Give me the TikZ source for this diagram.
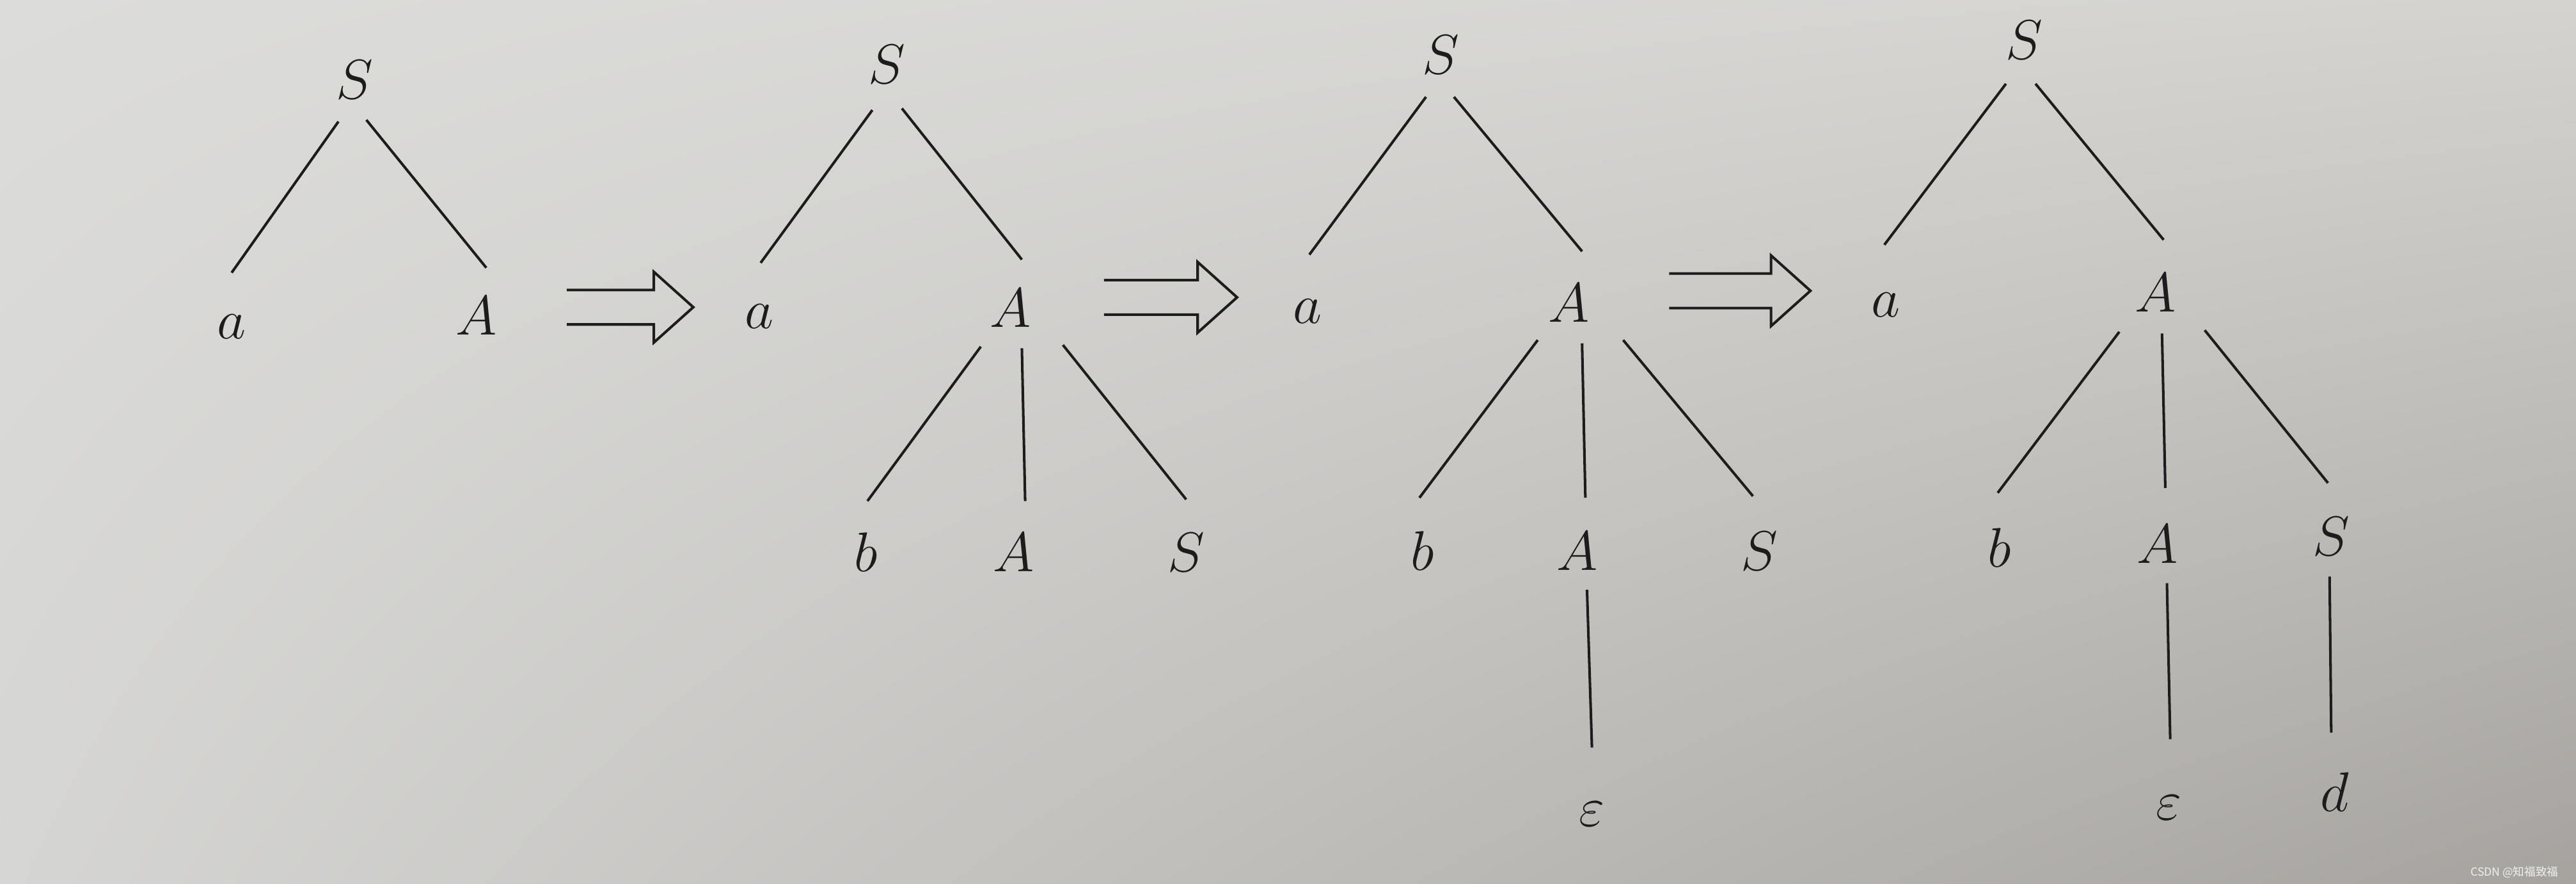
\documentclass[tikz,border=0pt]{standalone}
\usepackage{fontspec}
\newfontfamily\cjk{Noto Sans CJK SC}
\usetikzlibrary{calc,shadings}

\definecolor{ink}{HTML}{1C1C1C}
\definecolor{paperA}{HTML}{DCDCDA}
\definecolor{paperB}{HTML}{D4D3D0}
\definecolor{paperC}{HTML}{D5D5D3}
\definecolor{paperD}{HTML}{A6A39F}

\begin{document}
\begin{tikzpicture}[
	x=0.025683cm, y=-0.025683cm,
	sym/.style={anchor=base, inner sep=0pt, text=ink, font=\fontsize{29}{34}\selectfont},
	branch/.style={draw=ink, line width=1.15pt},
	pics/derive/.style={code={
		\draw[branch, line join=miter] (0,-10.5) -- (#1-24,-10.5) -- (#1-24,-21.5) -- (#1,0)
			-- (#1-24,21.5) -- (#1-24,10.5) -- (0,10.5);}}]
% paper
\shade[upper left=paperA, upper right=paperB, lower left=paperC, lower right=paperD]
	(0,0) rectangle (1568,538);
\useasboundingbox (0,0) rectangle (1568,538);

% first tree
\node[sym] (S1) at (216,60) {$S$};
\node[sym] (a1) at (141,206) {$a$};
\node[sym] (A1) at (290,204) {$A$};
\draw[branch] ($(S1.base)+(-10,14)$) -- ($(a1.base)+(0,-40)$);
\draw[branch] ($(S1.base)+(7,13)$) -- ($(A1.base)+(6,-41)$);

\pic at (345,187) {derive=77};

% second tree
\node[sym] (S2) at (540,51) {$S$};
\node[sym] (a2) at (462,200) {$a$};
\node[sym] (A2) at (615,199) {$A$};
\node[sym] (b2) at (527,348) {$b$};
\node[sym] (A2b) at (617,348) {$A$};
\node[sym] (S2b) at (722,348) {$S$};
\draw[branch] ($(S2.base)+(-9,16)$) -- ($(a2.base)+(1,-40)$);
\draw[branch] ($(S2.base)+(9,15)$) -- ($(A2.base)+(7,-41)$);
\draw[branch] ($(A2.base)+(-18,12)$) -- ($(b2.base)+(1,-43)$);
\draw[branch] ($(A2.base)+(7,13)$) -- ($(A2b.base)+(7,-43)$);
\draw[branch] ($(A2.base)+(32,11)$) -- ($(S2b.base)+(0,-44)$);

\pic at (672,181) {derive=81};

% third tree
\node[sym] (S3) at (877,45) {$S$};
\node[sym] (a3) at (796,197) {$a$};
\node[sym] (A3) at (955,196) {$A$};
\node[sym] (b3) at (866,347) {$b$};
\node[sym] (A3b) at (960,347) {$A$};
\node[sym] (S3b) at (1071,347) {$S$};
\node[sym] (e3) at (969,503) {$\varepsilon$};
\draw[branch] ($(S3.base)+(-9,14)$) -- ($(a3.base)+(1,-42)$);
\draw[branch] ($(S3.base)+(8,14)$) -- ($(A3.base)+(8,-43)$);
\draw[branch] ($(A3.base)+(-19,11)$) -- ($(b3.base)+(-2,-44)$);
\draw[branch] ($(A3.base)+(8,13)$) -- ($(A3b.base)+(5,-44)$);
\draw[branch] ($(A3.base)+(33,11)$) -- ($(S3b.base)+(-4,-45)$);
\draw[branch] ($(A3b.base)+(6,12)$) -- ($(e3.base)+(0,-48)$);

\pic at (1016,177) {derive=86};

% fourth tree
\node[sym] (S4) at (1232,36) {$S$};
\node[sym] (a4) at (1148,193) {$a$};
\node[sym] (A4) at (1312,190) {$A$};
\node[sym] (b4) at (1217,345) {$b$};
\node[sym] (A4b) at (1313,343) {$A$};
\node[sym] (S4b) at (1419,338) {$S$};
\node[sym] (e4) at (1320,499) {$\varepsilon$};
\node[sym] (d4) at (1421,494) {$d$};
\draw[branch] ($(S4.base)+(-11,15)$) -- ($(a4.base)+(-1,-44)$);
\draw[branch] ($(S4.base)+(7,15)$) -- ($(A4.base)+(5,-44)$);
\draw[branch] ($(A4.base)+(-22,12)$) -- ($(b4.base)+(-1,-45)$);
\draw[branch] ($(A4.base)+(4,13)$) -- ($(A4b.base)+(5,-46)$);
\draw[branch] ($(A4.base)+(30,11)$) -- ($(S4b.base)+(-2,-44)$);
\draw[branch] ($(A4b.base)+(6,12)$) -- ($(e4.base)+(1,-49)$);
\draw[branch] ($(S4b.base)+(-1,13)$) -- ($(d4.base)+(-2,-48)$);

% watermark
\node[anchor=east, text=white!88!gray, font=\cjk\fontsize{5}{6}\selectfont] (mark) at (1562,531) {CSDN @知福致福};
\end{tikzpicture}
\end{document}
